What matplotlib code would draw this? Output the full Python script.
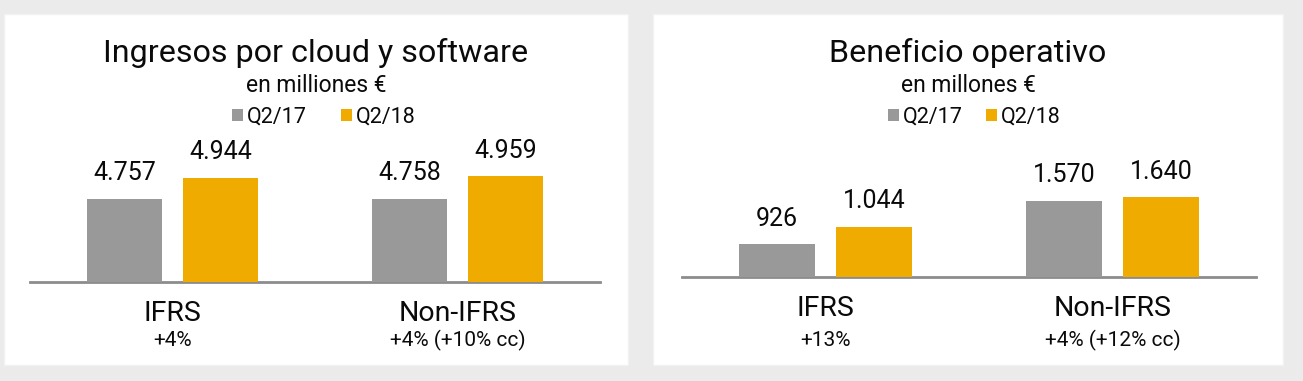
import matplotlib
matplotlib.use("Agg")
from matplotlib import pyplot as plt
from matplotlib.patches import Rectangle, Patch
from matplotlib.transforms import blended_transform_factory

plt.rcParams['font.family'] = ['Roboto', 'Liberation Sans', 'DejaVu Sans']

# data
categories = ['IFRS', 'Non-IFRS']
series = ['Q2/17', 'Q2/18']
rev_q217 = [4757, 4758]
rev_q218 = [4944, 4959]
rev_growth = ['+4%', '+4% (+10% cc)']
op_q217 = [926, 1570]
op_q218 = [1044, 1640]
op_growth = ['+13%', '+4% (+12% cc)']

GRAY = '#999999'
GOLD = '#f0ab00'
TXT = '#0a0a0a'
W, H = 1303, 381

fig = plt.figure(figsize=(W / 100, H / 100), dpi=100, facecolor='#ebebeb')


def fx(px):
    return px / W


def fy(py):
    return 1 - py / H


def fmt(v):
    return f'{v:,}'.replace(',', '.')


def panel(box, base, ylims, title, subtitle, q217, q218, growth, colspace, leg_dx):
    x0, y0, x1, y1 = box
    fig.add_artist(Rectangle((fx(x0), fy(y1)), fx(x1 - x0), (y1 - y0) / H,
                             transform=fig.transFigure, facecolor='white',
                             edgecolor='#f2f2f2', lw=1, zorder=0))
    cx = (x0 + x1) / 2
    fig.text(fx(cx), fy(53), title, ha='center', va='center', fontsize=23.2, color=TXT)
    fig.text(fx(cx), fy(85), subtitle, ha='center', va='center', fontsize=16.5, color=TXT)

    bx0, bx1, by = base
    # full-width axis just for the baseline
    bax = fig.add_axes([fx(bx0), fy(by), fx(bx1 - bx0), 150 / H])
    bax.set_facecolor('none')
    bax.set_xticks([])
    bax.set_yticks([])
    for sp in ['top', 'left', 'right']:
        bax.spines[sp].set_visible(False)
    bax.spines['bottom'].set_color('#8c8c8c')
    bax.spines['bottom'].set_linewidth(2)

    half = (bx1 - bx0) / 2
    for i, cat in enumerate(categories):
        ax = fig.add_axes([fx(bx0 + i * half), fy(by), fx(half), 150 / H])
        ax.set_facecolor('none')
        ax.bar([-0.337, 0.337], [q217[i], q218[i]], width=0.533,
               color=[GRAY, GOLD], zorder=2)
        ax.set_xlim(-1, 1)
        ax.set_ylim(*ylims[i])
        ax.axis('off')
        for xp, v in zip([-0.337, 0.337], [q217[i], q218[i]]):
            ax.annotate(fmt(v), (xp, v), xytext=(0, 13.5), textcoords='offset points',
                        ha='center', va='baseline', fontsize=18, color=TXT)
        tr = blended_transform_factory(ax.transData, fig.transFigure)
        ax.text(0, fy(by + 32), cat, transform=tr, ha='center', va='center',
                fontsize=20.5, color=TXT)
        ax.text(0, fy(340), growth[i], transform=tr, ha='center', va='center',
                fontsize=15, color=TXT)

    handles = [Patch(facecolor=GRAY), Patch(facecolor=GOLD)]
    fig.legend(handles, series, loc='center', bbox_to_anchor=(fx(cx + leg_dx), fy(117)),
               ncol=2, frameon=False, fontsize=15.5, handlelength=0.48, handleheight=0.48,
               handletextpad=0.2, columnspacing=colspace, borderpad=0,
               labelcolor=TXT)


panel((4, 14, 628, 365), (30, 600, 281.7), [(4010, 5361), (4010, 5361)],
      'Ingresos por cloud y software', 'en milliones €',
      rev_q217, rev_q218, rev_growth, 1.6, 8)
panel((653, 14, 1283, 365), (682, 1256, 276.7), [(709, 1716), (142, 2972)],
      'Beneficio operativo', 'en millones €',
      op_q217, op_q218, op_growth, 1.1, 6.5)

fig.savefig('out.png', dpi=100, facecolor=fig.get_facecolor())
